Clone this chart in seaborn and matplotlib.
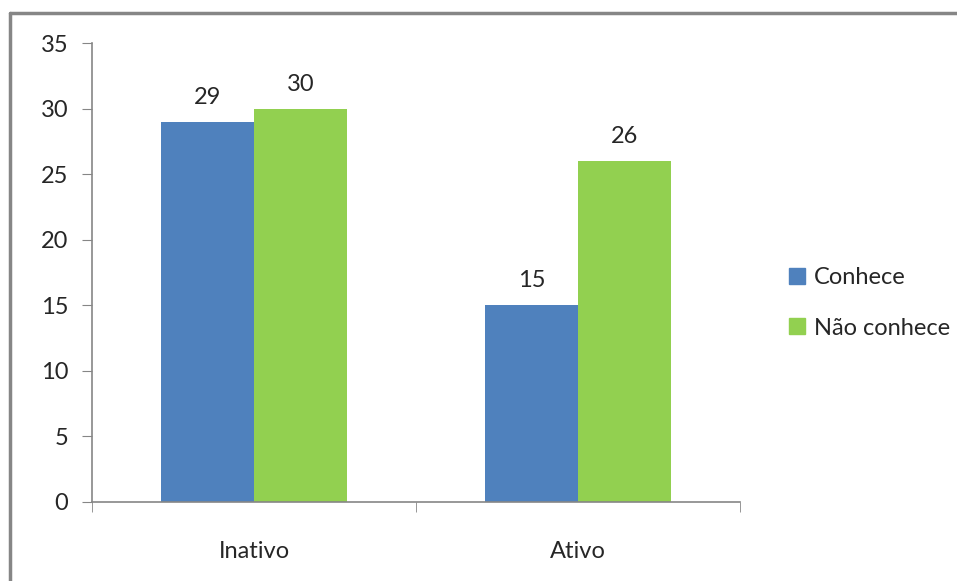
import matplotlib
matplotlib.use("Agg")
import matplotlib.pyplot as plt
import seaborn as sns
import pandas as pd
from matplotlib.lines import Line2D

categories = ["Inativo", "Ativo"]
series = ["Conhece", "Não conhece"]
conhece = [29, 15]
nao_conhece = [30, 26]
colors = ["#4F81BD", "#92D050"]

df = pd.DataFrame({
    "cat": categories * 2,
    "serie": [series[0]] * 2 + [series[1]] * 2,
    "val": conhece + nao_conhece,
})

sns.set_style("white")
plt.rcParams["font.family"] = ["Lato", "DejaVu Sans"]

fig = plt.figure(figsize=(9.57, 5.81), dpi=100)
ax = fig.add_axes([92/957, 1-502/581, (740-92)/957, (502-43)/581])

sns.barplot(data=df, x="cat", y="val", hue="serie", palette=colors,
            width=0.574, saturation=1, linewidth=0, ax=ax, legend=True)

for c in ax.containers:
    ax.bar_label(c, fmt="%d", padding=10, fontsize=17)

ax.set_xlim(-0.5, 1.5)
ax.set_ylim(0, 35)
ax.set_yticks(range(0, 36, 5))
ax.set_xlabel("")
ax.set_ylabel("")
for s in ["top", "right"]:
    ax.spines[s].set_visible(False)
for s in ["left", "bottom"]:
    ax.spines[s].set_color("#868686")
    ax.spines[s].set_linewidth(1.2)
ax.tick_params(axis="y", length=7, color="#868686", labelsize=17, pad=10, direction="out", left=True)
ax.set_xticks([-0.5, 0.5, 1.5], minor=True)
ax.tick_params(axis="x", which="minor", length=7, color="#868686", direction="out", bottom=True)
ax.tick_params(axis="x", which="major", length=0, labelsize=17, pad=28)

handles = [Line2D([], [], marker="s", linestyle="", markersize=12, color=c) for c in colors]
ax.legend(handles, series, loc="center left", bbox_to_anchor=(776/957, 1-303/581),
          bbox_transform=fig.transFigure, frameon=False, fontsize=17,
          handletextpad=0.2, labelspacing=1.25, handlelength=1.0, borderaxespad=0)

fig.add_artist(Line2D([10/957, 1], [1-13/581, 1-13/581], color="#868686", lw=2.5, transform=fig.transFigure))
fig.add_artist(Line2D([10/957, 10/957], [1-13/581, 0], color="#868686", lw=2.5, transform=fig.transFigure))

fig.savefig("out.png", dpi=100)
